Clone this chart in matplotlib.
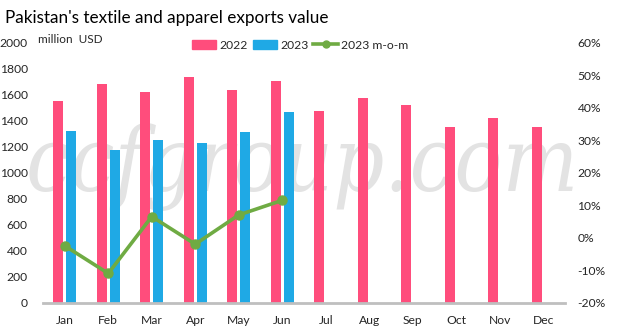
import matplotlib
matplotlib.use("Agg")
import matplotlib.pyplot as plt
import numpy as np
from matplotlib.lines import Line2D
from matplotlib.patches import Patch

months = ["Jan", "Feb", "Mar", "Apr", "May", "Jun",
          "Jul", "Aug", "Sep", "Oct", "Nov", "Dec"]
exports_2022 = [1551, 1682, 1620, 1736, 1636, 1705,
                1475, 1574, 1520, 1351, 1420, 1351]
exports_2023 = [1321, 1174, 1251, 1228, 1313, 1467]
mom_2023 = [-2.5, -11.0, 6.5, -2.0, 7.0, 11.5]

left_ticks = [0, 200, 400, 600, 800, 1000, 1200, 1400, 1600, 1800, 2000]
right_ticks = [-20, -10, 0, 10, 20, 30, 40, 50, 60]

C22 = "#FF4D7C"
C23 = "#1FA9E5"
CMOM = "#6FAB43"
TXT = "#262626"

plt.rcParams["font.family"] = ["Lato", "DejaVu Sans"]

fig = plt.figure(figsize=(6.33, 3.35), dpi=100)
ax = fig.add_axes([0.068, 0.0964, 0.8245, 0.7761])
ax2 = ax.twinx()

# watermark
fig.text(0.478, 0.43, "ccfgroup.com", family="DejaVu Serif", stretch="condensed",
         style="italic", fontsize=64, color="#E3E3E3", ha="center",
         va="baseline", zorder=0)
ax.set_zorder(1)
ax2.set_zorder(2)
ax.patch.set_visible(False)
ax2.patch.set_visible(False)

x = np.arange(len(months))
w = 0.23
off = 0.145
ax.bar(x - off, exports_2022, width=w, color=C22, zorder=2)
x23 = np.arange(len(exports_2023))
ax.bar(x23 + off, exports_2023, width=w, color=C23, zorder=2)

ax.set_xlim(-0.5, 11.5)
ax.set_ylim(0, 2000)
ax.set_yticks(left_ticks)
ax.set_yticklabels([str(v) for v in left_ticks])
ax.set_xticks(x)
ax.set_xticklabels(months)

ax2.plot(x23, mom_2023, color=CMOM, lw=2.6, marker="o", ms=6.5, zorder=3)
ax2.set_ylim(-20, 60)
ax2.set_yticks(right_ticks)
ax2.set_yticklabels([f"{v}%" for v in right_ticks])

for a in (ax, ax2):
    for s in ("top", "right", "left", "bottom"):
        a.spines[s].set_visible(False)
    a.tick_params(length=0, labelsize=8.7, colors=TXT)
ax.spines["bottom"].set_visible(True)
ax.spines["bottom"].set_color("#BFBFBF")
ax.spines["bottom"].set_linewidth(2)
ax.tick_params(axis="x", pad=9)
ax.tick_params(axis="y", pad=11)
ax2.tick_params(axis="y", pad=9)

fig.text(0.008, 0.945, "Pakistan's textile and apparel exports value",
         fontsize=12.3, color="black", ha="left", va="center")
fig.text(0.06, 0.882, "million  USD", fontsize=8.5, color=TXT,
         ha="left", va="center")

handles = [Patch(color=C22), Patch(color=C23),
           Line2D([0], [0], color=CMOM, lw=2.6, marker="o", ms=5)]
fig.legend(handles, ["2022", "2023", "2023 m-o-m"], loc="center",
           bbox_to_anchor=(0.474, 0.865), ncol=3, frameon=False,
           fontsize=8.7, handlelength=2.0, handleheight=0.7,
           handletextpad=0.3, columnspacing=0.4, labelcolor=TXT)

fig.savefig("out.png", dpi=100)
